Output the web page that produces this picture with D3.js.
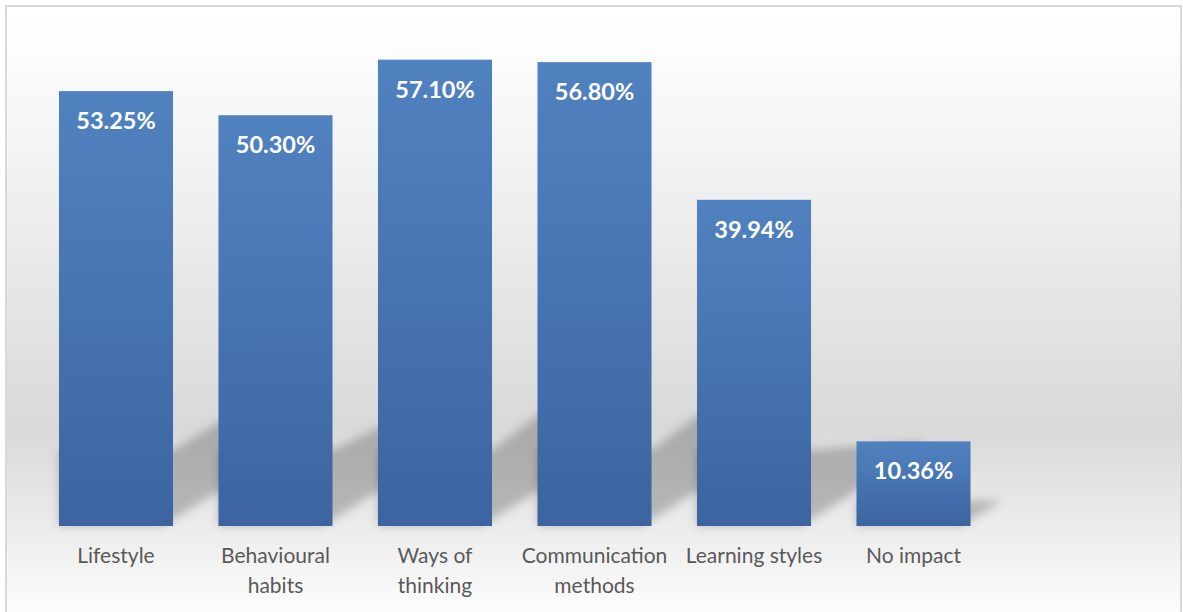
<!DOCTYPE html>
<html>
<head>
<meta charset="utf-8">
<script src="https://cdn.jsdelivr.net/npm/d3@7"></script>
<style>
  html, body { margin: 0; padding: 0; background: #ffffff; }
  svg { display: block; }
</style>
</head>
<body>
<svg id="chart" width="1183" height="612"></svg>
<script>
// Share of respondents by area of impact (%)
const categories = ["Lifestyle", "Behavioural habits", "Ways of thinking", "Communication methods", "Learning styles", "No impact"];
const categoryLines = [["Lifestyle"], ["Behavioural", "habits"], ["Ways of", "thinking"], ["Communication", "methods"], ["Learning styles"], ["No impact"]];
const values = [53.25, 50.30, 57.10, 56.80, 39.94, 10.36];
const valueLabels = ["53.25%", "50.30%", "57.10%", "56.80%", "39.94%", "10.36%"];

const W = 1183, H = 612;
const svg = d3.select("#chart");
const defs = svg.append("defs");

// Chart-area background: white at the top, grey around the baseline, fading back to white
const bg = defs.append("linearGradient").attr("id", "bgGrad")
  .attr("x1", 0).attr("y1", 0).attr("x2", 0).attr("y2", 1);
[[0, "#ffffff"], [0.08, "#fcfcfc"], [0.68, "#d9d9d9"], [1, "#ffffff"]]
  .forEach(([o, c]) => bg.append("stop").attr("offset", o).attr("stop-color", c));

// Bar fill: lighter blue at the top, deeper blue at the bottom
const barGrad = defs.append("linearGradient").attr("id", "barGrad")
  .attr("x1", 0).attr("y1", 0).attr("x2", 0).attr("y2", 1);
[[0, "#5082bf"], [0.5, "#4674b1"], [1, "#3b64a0"]]
  .forEach(([o, c]) => barGrad.append("stop").attr("offset", o).attr("stop-color", c));

const blur = defs.append("filter").attr("id", "shadowBlur")
  .attr("x", "-50%").attr("y", "-50%").attr("width", "200%").attr("height", "200%");
blur.append("feGaussianBlur").attr("stdDeviation", 5);

svg.append("rect")
  .attr("x", 6).attr("y", 6).attr("width", 1175).attr("height", 620)
  .attr("fill", "url(#bgGrad)")
  .attr("stroke", "#d9d9d9").attr("stroke-width", 2);

const x = d3.scaleBand().domain(categories).range([36, 993.5])
  .paddingInner(0.285).paddingOuter(0.144);
const y = d3.scaleLinear().domain([0, 60]).range([526, 36]);
const base = y(0);
const bw = x.bandwidth();

const data = categories.map((c, i) => ({ cat: c, v: values[i], label: valueLabels[i], lines: categoryLines[i] }));

// Perspective shadows cast up and to the right of each bar
function shadowPoints(d) {
  const x0 = x(d.cat), x1 = x0 + bw;
  const h = base - y(d.v);
  const T = Math.min(76, 0.3 * h);
  const sU = Math.max(0, (h - 310) * 0.0048);
  const sL = 0.64;
  const dd = sL > sU ? Math.min(110, (T - 8 * sL) / (sL - sU)) : 110;
  const yL = base - sL * (dd + 8);
  const yU = base - T - sU * dd;
  return [[x0, base], [x1 - 10, base], [x1 + dd, yL], [x1 + dd, yU], [x1, base - T], [x0, base - T]];
}

svg.append("g").attr("filter", "url(#shadowBlur)")
  .selectAll("polygon").data(data).join("polygon")
  .attr("points", d => shadowPoints(d).map(p => p.join(",")).join(" "))
  .attr("fill", "#000").attr("fill-opacity", 0.22);

svg.append("g").selectAll("rect").data(data).join("rect")
  .attr("x", d => x(d.cat)).attr("width", bw)
  .attr("y", d => y(d.v)).attr("height", d => base - y(d.v))
  .attr("fill", "url(#barGrad)");

// Value labels inside the top of each bar
svg.append("g").selectAll("text").data(data).join("text")
  .attr("x", d => x(d.cat) + bw / 2)
  .attr("y", d => y(d.v) + 38)
  .attr("text-anchor", "middle")
  .attr("font-family", "Lato, 'Open Sans', sans-serif")
  .attr("font-weight", "bold")
  .attr("font-size", 23.5)
  .attr("fill", "#ffffff")
  .text(d => d.label);

// Category labels under the bars
const cat = svg.append("g").selectAll("text").data(data).join("text")
  .attr("text-anchor", "middle")
  .attr("font-family", "Lato, 'Open Sans', sans-serif")
  .attr("font-size", 21)
  .attr("fill", "#595959");
cat.selectAll("tspan").data(d => d.lines.map(l => ({ l, cx: x(d.cat) + bw / 2 }))).join("tspan")
  .attr("x", t => t.cx)
  .attr("y", (t, i) => 563 + i * 30)
  .text(t => t.l);
</script>
</body>
</html>
